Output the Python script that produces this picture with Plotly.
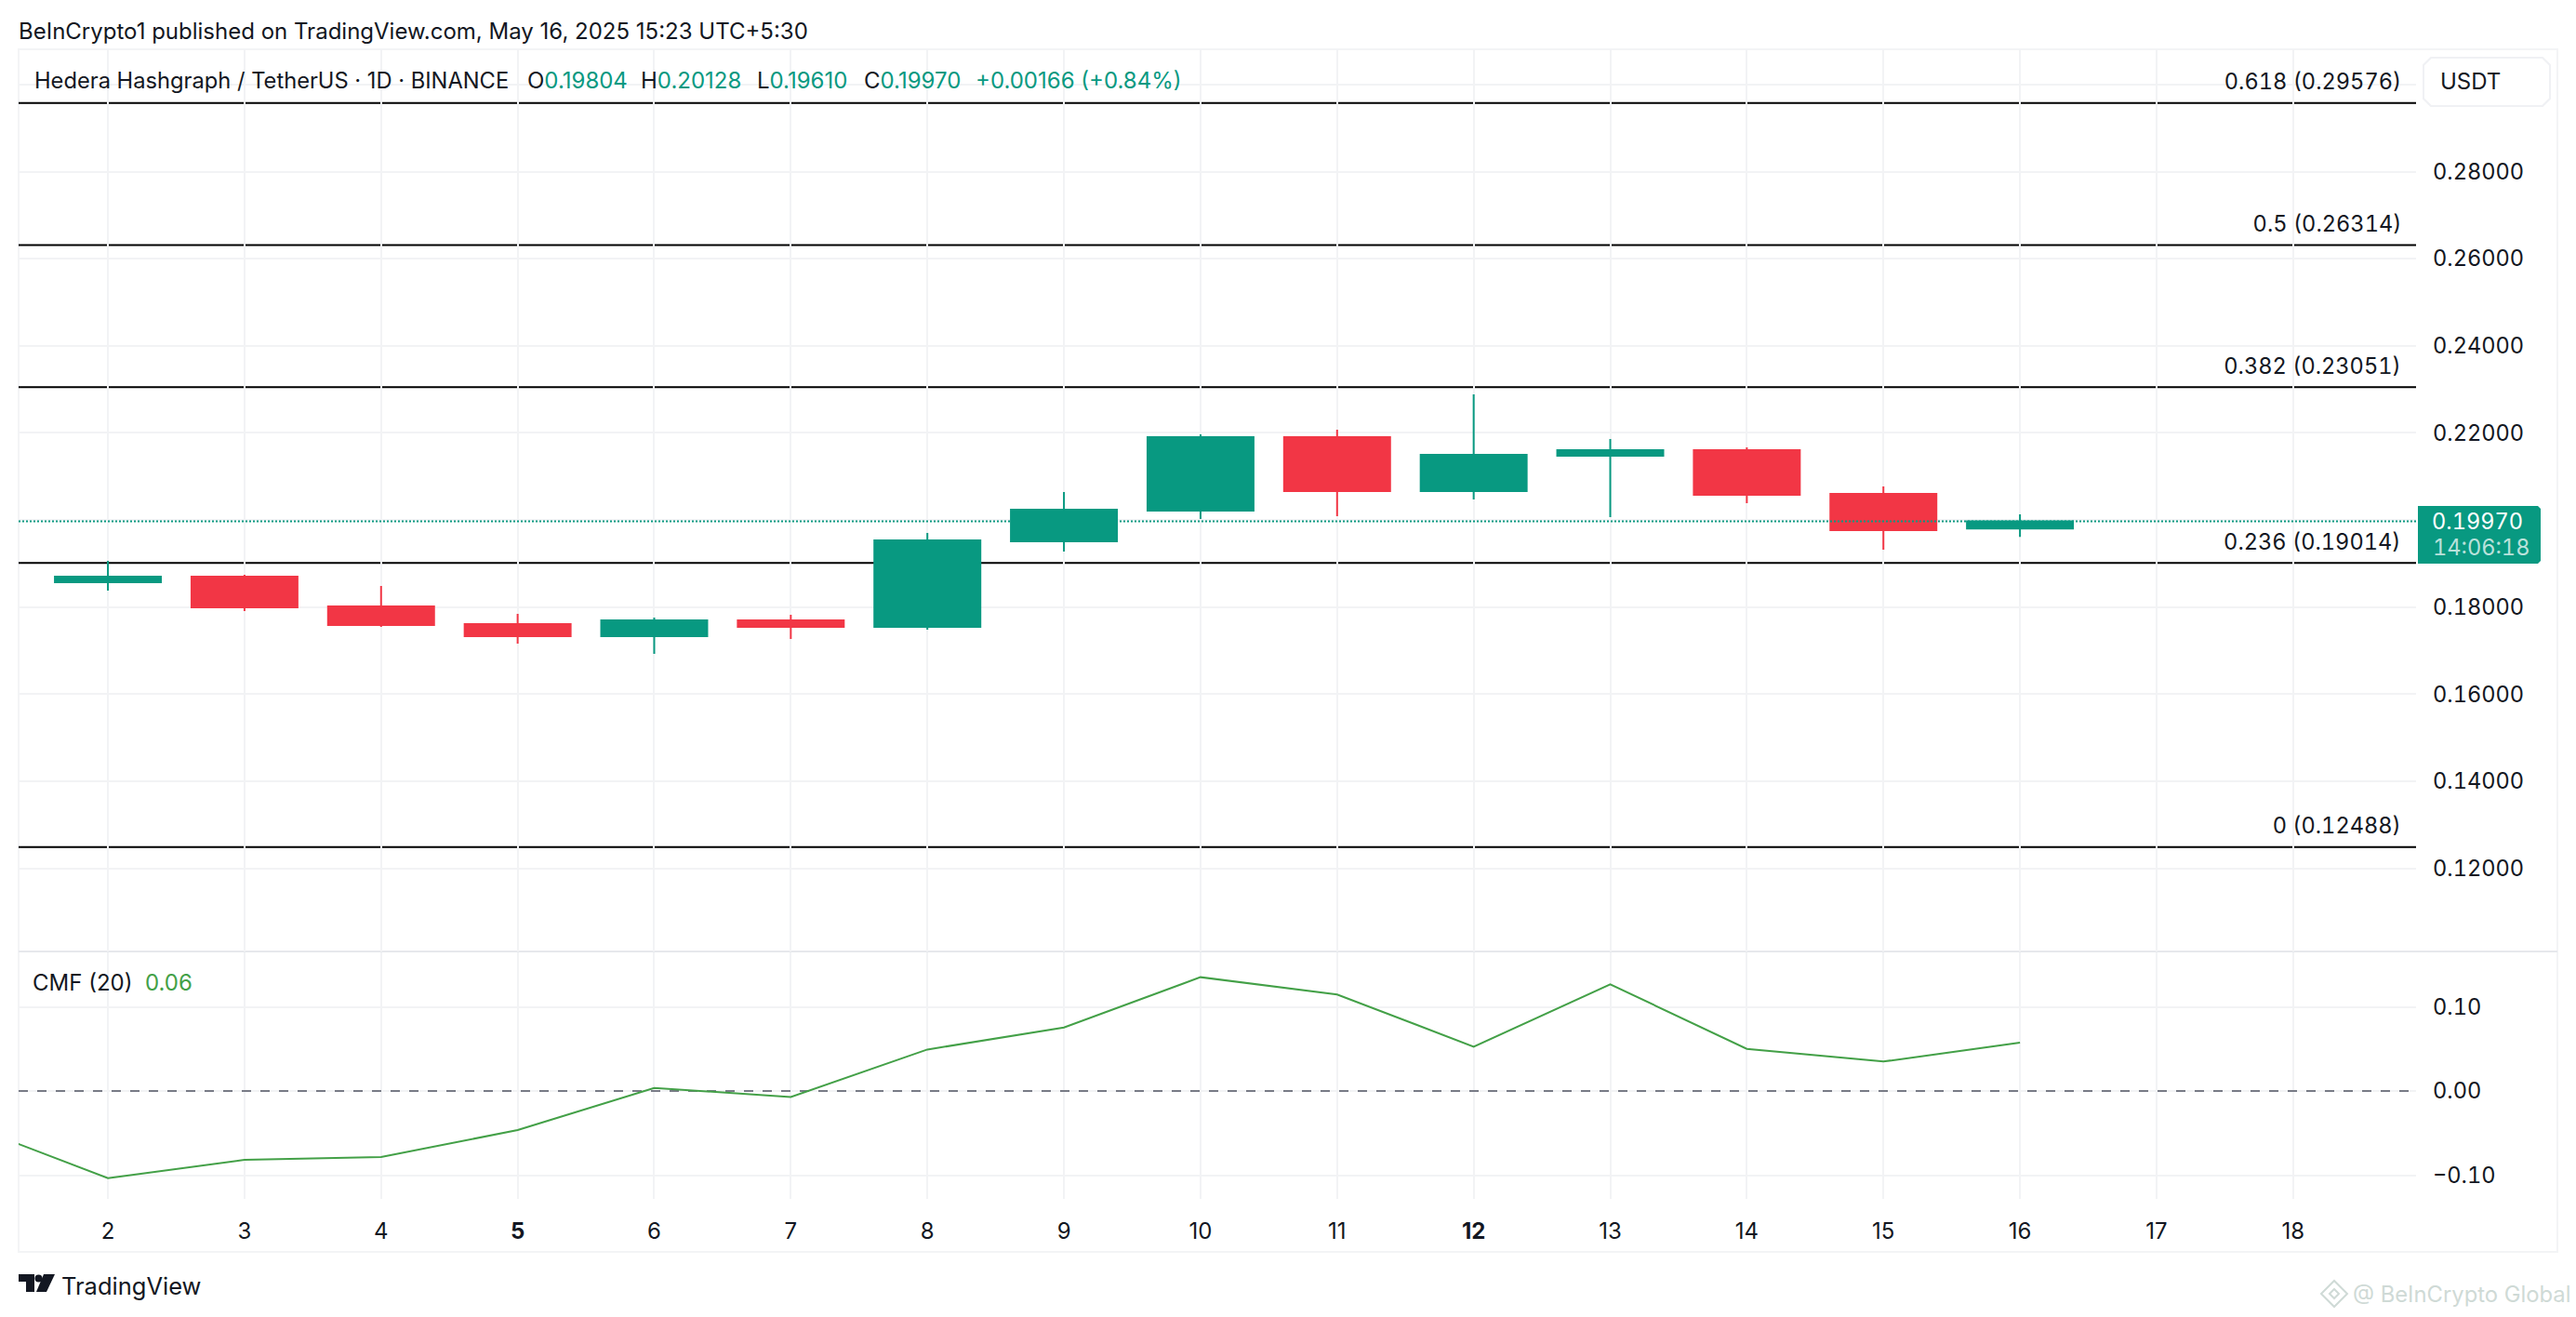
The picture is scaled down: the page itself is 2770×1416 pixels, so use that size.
import plotly.graph_objects as go

W, H = 2770, 1416
FONT = "Inter"
INK = "#131722"
UP = "#089981"
DOWN = "#F23645"
GRID = "#F2F3F5"
CMF_GREEN = "#43A047"

days = [2, 3, 4, 5, 6, 7, 8, 9, 10, 11, 12, 13, 14, 15, 16]
opens = [.18570, .18698, .18015, .17609, .17331, .17695, .17545, .19510, .20215, .21902, .20663, .21475, .21603, .20599, .19804]
highs = [.19062, .18741, .18485, .17844, .17759, .17823, .19702, .20642, .21966, .22073, .22885, .21859, .21667, .20770, .20128]
lows = [.18378, .17908, .17545, .17161, .16926, .17267, .17481, .19275, .20023, .20087, .20471, .20065, .20386, .19318, .19610]
closes = [.18698, .17994, .17588, .17331, .17695, .17545, .19531, .20236, .21902, .20663, .21496, .21603, .20578, .19766, .19970]

cmf_days = [1, 2, 3, 4, 5, 6, 7, 8, 9, 10, 11, 12, 13, 14, 15, 16]
cmf_values = [-.0415, -.1035, -.0818, -.0785, -.0464, .0037, -.0070, .0494, .0756, .1354, .1148, .0528, .1269, .0502, .0351, .0576]

fib_levels = ["0.618", "0.5", "0.382", "0.236", "0"]
fib_prices = [.29576, .26314, .23051, .19014, .12488]
last_price = .19970

x_tick_vals = list(range(2, 19))
x_tick_text = [f"<b>{d}</b>" if d in (5, 12) else str(d) for d in x_tick_vals]
price_ticks = [.12, .14, .16, .18, .20, .22, .24, .26, .28, .30]
price_tick_text = ["0.12000", "0.14000", "0.16000", "0.18000", "", "0.22000", "0.24000", "0.26000", "0.28000", ""]
cmf_ticks = [-.10, 0, .10]
cmf_tick_text = ["\u22120.10", "0.00", "0.10"]

X_RANGE = [1.346, 18.90]
Y1_RANGE = [.10091, .30809]
Y2_RANGE = [-.1282, .16486]


def fx(px):
    return px / W


def fy(px):
    return 1 - px / H


def path(points):
    return "M" + " L".join(f"{fx(a):.5f},{fy(b):.5f}" for a, b in points) + " Z"


def text(x, y, s, size=24, color=INK, anchor="left"):
    return dict(xref="paper", yref="paper", x=fx(x), y=fy(y), text=s, showarrow=False,
                xanchor=anchor, yanchor="middle", align=anchor,
                font=dict(family=FONT, size=size, color=color))


fig = go.Figure()
fig.add_trace(go.Candlestick(
    x=days, open=opens, high=highs, low=lows, close=closes, xaxis="x", yaxis="y",
    whiskerwidth=0,
    increasing=dict(line=dict(color=UP, width=2), fillcolor=UP),
    decreasing=dict(line=dict(color=DOWN, width=2), fillcolor=DOWN),
    showlegend=False))
fig.add_trace(go.Scatter(
    x=X_RANGE, y=[last_price, last_price], mode="lines", xaxis="x", yaxis="y",
    line=dict(color=UP, width=2, dash="2px,2px"), showlegend=False))
fig.add_trace(go.Scatter(
    x=X_RANGE, y=[0, 0], mode="lines", xaxis="x2", yaxis="y2",
    line=dict(color="#787B86", width=2, dash="10px,10px"), showlegend=False))
fig.add_trace(go.Scatter(
    x=cmf_days, y=cmf_values, mode="lines", xaxis="x2", yaxis="y2",
    line=dict(color=CMF_GREEN, width=2), showlegend=False))

shapes = []
for price in fib_prices:
    shapes.append(dict(type="line", xref="x", yref="y", x0=X_RANGE[0], x1=X_RANGE[1],
                       y0=price, y1=price, line=dict(color="#000000", width=2), layer="below"))
# frame and pane separator
shapes.append(dict(type="rect", xref="paper", yref="paper", x0=fx(20), x1=fx(2750), y0=fy(1346), y1=fy(53),
                   line=dict(color="#F3F4F6", width=2), layer="below"))
shapes.append(dict(type="line", xref="paper", yref="paper", x0=fx(20), x1=fx(2750), y0=fy(1023), y1=fy(1023),
                   line=dict(color="#E6E8EC", width=2), layer="below"))
# last price tag
shapes.append(dict(type="path", xref="paper", yref="paper", line=dict(width=0), fillcolor=UP, layer="above",
                   path=path([(2600, 544), (2729, 544), (2732, 547), (2732, 603), (2729, 606), (2600, 606)])))
# USDT button
shapes.append(dict(type="path", xref="paper", yref="paper", line=dict(color="#F0F1F4", width=2), fillcolor="white",
                   layer="above",
                   path=path([(2614, 62), (2734, 62), (2742, 70), (2742, 106), (2734, 114), (2614, 114),
                              (2606, 106), (2606, 70)])))
# TradingView mark
shapes.append(dict(type="path", xref="paper", yref="paper", line=dict(width=0), fillcolor=INK, layer="above",
                   path=path([(20, 1370), (37, 1370), (37, 1389), (28, 1389), (28, 1378), (20, 1378)])))
shapes.append(dict(type="circle", xref="paper", yref="paper", x0=fx(37.5), x1=fx(45.5), y0=fy(1378.5), y1=fy(1370.5),
                   line=dict(width=0), fillcolor=INK, layer="above"))
shapes.append(dict(type="path", xref="paper", yref="paper", line=dict(width=0), fillcolor=INK, layer="above",
                   path=path([(47, 1370), (59, 1370), (50, 1389), (39, 1389)])))
# watermark diamond
shapes.append(dict(type="path", xref="paper", yref="paper", line=dict(color="#CFDAD6", width=2), fillcolor="white",
                   layer="above", path=path([(2510, 1377), (2524, 1391), (2510, 1405), (2496, 1391)])))
shapes.append(dict(type="path", xref="paper", yref="paper", line=dict(color="#CFDAD6", width=2), fillcolor="white",
                   layer="above", path=path([(2510, 1386), (2515, 1391), (2510, 1396), (2505, 1391)])))


def green(s):
    return f'<span style="color:{UP}">{s}</span>'


annotations = [
    text(18, 33, "BeInCrypto1 published on TradingView.com, May 16, 2025 15:23 UTC+5:30"),
    text(35, 86, "Hedera Hashgraph / TetherUS \u00b7 1D \u00b7 BINANCE", size=23.7),
    text(565, 86, "O" + green("0.19804")),
    text(687, 86, "H" + green("0.20128")),
    text(812, 86, "L" + green("0.19610")),
    text(927, 86, "C" + green("0.19970")),
    text(1047, 86, green("+0.00166 (+0.84%)")),
    text(33, 1056, "CMF (20)"),
    text(154, 1056, f'<span style="color:{CMF_GREEN}">0.06</span>'),
    text(2622, 88, "USDT"),
    text(2613, 561, "0.19970", size=23.6, color="#FFFFFF"),
    text(2614, 588, "14:06:18", size=23.6, color="rgba(255,255,255,0.72)"),
    text(64, 1382, "TradingView", size=25.5),
    text(2528, 1391, "@ BeInCrypto Global", size=23.8, color="#CFDAD6"),
]
tabular_notes = [10, 11]
for level, price in zip(fib_levels, fib_prices):
    tabular_notes.append(len(annotations))
    annotations.append(dict(xref="paper", yref="y", x=fx(2584), y=price, yshift=23,
                            text=f"{level} ({price:.5f})", showarrow=False, xanchor="right", align="right",
                            yanchor="middle", font=dict(family=FONT, size=23.6, color=INK)))

x_common = dict(range=X_RANGE, domain=[fx(20), fx(2598)], tickvals=x_tick_vals, showgrid=True,
                gridcolor=GRID, gridwidth=2, zeroline=False, showline=False, fixedrange=True)
y_common = dict(side="right", showgrid=True, gridcolor=GRID, gridwidth=2, zeroline=False, showline=False,
                ticks="", ticklabelstandoff=17, tickfont=dict(family=FONT, size=23.6, color=INK))

fig.update_layout(
    width=W, height=H, autosize=False,
    margin=dict(l=0, r=0, t=0, b=0),
    paper_bgcolor="white", plot_bgcolor="white",
    font=dict(family=FONT, size=24, color=INK),
    showlegend=False, boxgap=0.224, boxgroupgap=0,
    shapes=shapes, annotations=annotations,
    xaxis=dict(**x_common, anchor="y", showticklabels=False, rangeslider=dict(visible=False), ticks=""),
    xaxis2=dict(**x_common, anchor="y2", ticktext=x_tick_text, tickmode="array", ticks="",
                ticklabelstandoff=18, tickfont=dict(family=FONT, size=24, color=INK)),
    yaxis=dict(**y_common, anchor="x", domain=[fy(1023), fy(53)], range=Y1_RANGE,
               tickvals=price_ticks, ticktext=price_tick_text, tickmode="array"),
    yaxis2=dict(**y_common, anchor="x2", domain=[fy(1289), fy(1024)], range=Y2_RANGE,
                tickvals=cmf_ticks, ticktext=cmf_tick_text, tickmode="array"),
)

selector = ",".join([".ytick text", ".y2tick text"] + [f'.annotation[data-index="{i}"] text' for i in tabular_notes])
post = """
document.body.style.margin='0';
var st=document.createElement('style');
st.textContent='SELECTOR{font-feature-settings:"tnum" 1;font-variant-numeric:tabular-nums;}';
document.head.appendChild(st);
""".replace("SELECTOR", selector)
fig.write_html("out.html", post_script=post, config={"displayModeBar": False})
